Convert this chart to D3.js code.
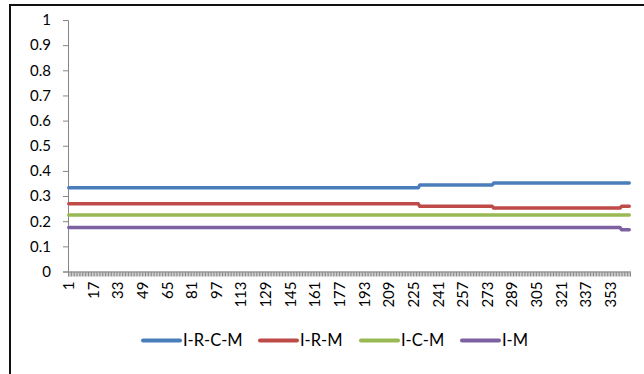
<!DOCTYPE html>
<html>
<head>
<meta charset="utf-8">
<script src="https://cdn.jsdelivr.net/npm/d3@7"></script>
<style>
  html, body { margin: 0; padding: 0; background: #fff; }
  svg { display: block; }
  text { font-family: Lato, "Open Sans", sans-serif; fill: #000; }
</style>
</head>
<body>
<svg id="chart" width="644" height="374"></svg>
<script>
// Daily index values for days 1..365, stored as runs: [firstDay, lastDay, value]
const dayCount = 365;
const seriesNames = ["I-R-C-M", "I-R-M", "I-C-M", "I-M"];
const seriesColors = ["#4a7ebb", "#be4b48", "#98b954", "#7d60a0"];
const runsIRCM = [[1, 228, 0.333], [229, 276, 0.344], [277, 365, 0.352]];
const runsIRM  = [[1, 228, 0.269], [229, 276, 0.259], [277, 359, 0.252], [360, 365, 0.259]];
const runsICM  = [[1, 365, 0.225]];
const runsIM   = [[1, 359, 0.175], [360, 365, 0.166]];
const yTicks = [0, 0.1, 0.2, 0.3, 0.4, 0.5, 0.6, 0.7, 0.8, 0.9, 1];
const xLabelDays = [1, 17, 33, 49, 65, 81, 97, 113, 129, 145, 161, 177, 193, 209, 225, 241, 257, 273, 289, 305, 321, 337, 353];

const days = d3.range(1, dayCount + 1);
function expand(runs) {
  const out = [];
  runs.forEach(([a, b, v]) => { for (let d = a; d <= b; d++) out.push({ day: d, value: v }); });
  return out;
}
const seriesData = [runsIRCM, runsIRM, runsICM, runsIM].map(expand);

const svg = d3.select("#chart");

// outer frame
svg.append("rect")
  .attr("x", 10).attr("y", 5).attr("width", 700).attr("height", 400)
  .attr("fill", "none").attr("stroke", "#111").attr("stroke-width", 2);

const plotLeft = 68, plotRight = 630, plotTop = 20, plotBottom = 271.5;

const x = d3.scaleBand().domain(days).range([plotLeft, plotRight]).padding(0);
const xEdges = d3.scaleLinear().domain([0, dayCount]).range([plotLeft, plotRight]);
const y = d3.scaleLinear().domain([0, 1]).range([plotBottom, plotTop]);

// y axis
const yAxis = svg.append("g")
  .attr("transform", `translate(${plotLeft},0)`)
  .call(d3.axisLeft(y).tickValues(yTicks).tickSize(5).tickPadding(12).tickFormat(d3.format("")));
yAxis.select(".domain").attr("stroke", "#868686");
yAxis.selectAll(".tick line").attr("stroke", "#868686");
yAxis.selectAll(".tick text").style("font-size", "15px").attr("fill", "#000");

// x axis: tick marks between every category
const xTickAxis = svg.append("g")
  .attr("transform", `translate(0,${plotBottom})`)
  .call(d3.axisBottom(xEdges).tickValues(d3.range(0, dayCount + 1)).tickSize(5).tickFormat(""));
xTickAxis.select(".domain").attr("stroke", "#868686");
xTickAxis.selectAll(".tick line").attr("stroke", "#8a8a8a").attr("stroke-width", 1);

// x labels, rotated
const xLabelAxis = svg.append("g")
  .attr("transform", `translate(0,${plotBottom})`)
  .call(d3.axisBottom(x).tickValues(xLabelDays).tickSize(0).tickPadding(0));
xLabelAxis.select(".domain").remove();
xLabelAxis.selectAll(".tick text")
  .style("font-size", "15px")
  .attr("fill", "#000")
  .attr("text-anchor", "end")
  .attr("transform", "rotate(-90)")
  .attr("x", -10)
  .attr("y", 0)
  .attr("dy", "0.35em");

// series lines
const line = d3.line()
  .x(d => x(d.day) + x.bandwidth() / 2)
  .y(d => y(d.value));

svg.append("g").selectAll("path")
  .data(seriesData)
  .join("path")
  .attr("d", line)
  .attr("fill", "none")
  .attr("stroke", (d, i) => seriesColors[i])
  .attr("stroke-width", 3.5)
  .attr("stroke-linejoin", "round")
  .attr("stroke-linecap", "round");

// legend
const legendX = [143, 260, 361, 462];
const legendY = 340.5;
const legend = svg.append("g").selectAll("g")
  .data(seriesNames)
  .join("g")
  .attr("transform", (d, i) => `translate(${legendX[i]},${legendY})`);
legend.append("line")
  .attr("x1", 0).attr("x2", 37)
  .attr("stroke", (d, i) => seriesColors[i])
  .attr("stroke-width", 4)
  .attr("stroke-linecap", "round");
legend.append("text")
  .attr("x", 40)
  .attr("dy", "0.35em")
  .style("font-size", "16.5px")
  .text(d => d);
</script>
</body>
</html>
